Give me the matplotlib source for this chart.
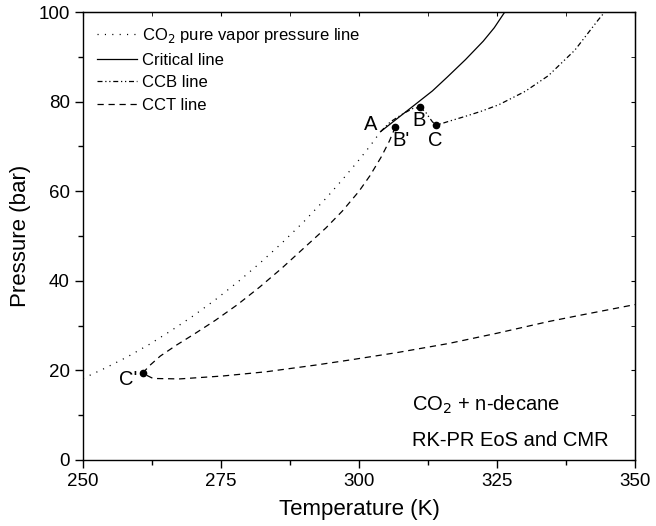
import numpy as np
import matplotlib.pyplot as plt
from matplotlib.ticker import MultipleLocator

plt.rcParams['font.family'] = ['Liberation Sans', 'DejaVu Sans']

# CO2 pure vapor pressure line
vap_T = [250, 254, 258, 262, 266, 270, 274, 278, 282, 286, 290, 294, 297, 300, 302, 303.9]
vap_P = [18.2, 20.5, 23.0, 25.8, 28.9, 32.2, 35.8, 39.7, 43.9, 48.4, 53.2, 58.4, 62.6, 67.0, 70.1, 73.3]

# critical line
crit_T = [303.9, 307.2, 310.0, 313.3, 316.0, 319.3, 322.5, 324.5, 326.4]
crit_P = [73.3, 76.5, 79.2, 82.4, 85.5, 89.4, 93.5, 96.5, 100.0]

# CCB line
ccb_T = [303.9, 305.7, 308.1, 309.8, 311.0, 312.0, 312.6, 313.3, 314.0, 315.2, 316.5, 319.2, 322.0,
         325.3, 330.1, 334.3, 339.1, 343.3, 344.5]
ccb_P = [73.3, 75.5, 77.4, 78.5, 78.7, 77.8, 76.7, 75.5, 74.8, 75.2, 75.7, 76.7, 77.8,
         79.3, 82.3, 85.8, 91.5, 98.2, 100.0]

# CCT line (upper branch B' -> C', lower branch C' -> 350 K)
cct_T = [306.6, 305.5, 304.0, 302.0, 300.0, 297.0, 294.0, 290.0, 286.0, 282.0, 278.0, 274.0, 270.0,
         267.0, 264.0, 262.0, 260.8,
         262.7, 267.5, 275.3, 283.2, 292.2, 298.2, 307.0, 316.2, 325.0, 334.3, 340.0, 350.0]
cct_P = [74.4, 71.2, 67.6, 63.5, 60.0, 55.6, 51.8, 47.3, 42.8, 38.6, 34.7, 31.2, 28.0,
         25.7, 23.2, 21.0, 19.35,
         18.2, 18.1, 18.75, 19.7, 21.2, 22.3, 24.0, 26.0, 28.3, 30.9, 32.3, 34.7]

# marked points
pt_T = [306.6, 311.0, 314.0, 260.8]
pt_P = [74.4, 78.7, 74.8, 19.35]
lab_names = ['A', "B'", 'B', 'C', "C'"]
lab_T = [302.2, 307.6, 310.9, 313.8, 258.1]
lab_P = [74.8, 71.4, 75.9, 71.4, 17.9]

fig = plt.figure(figsize=(6.56, 5.26), dpi=100)
ax = fig.add_axes([0.1265, 0.1255, 0.8415, 0.8515])

ax.plot(vap_T, vap_P, color='black', lw=0.9, linestyle=(0, (0.9, 5)), label='CO$_2$ pure vapor pressure line')
ax.plot(crit_T, crit_P, color='black', lw=0.9, linestyle='-', label='Critical line')
ax.plot(ccb_T, ccb_P, color='black', lw=0.9, linestyle=(0, (4, 2.2, 1, 2.2, 1, 2.2)), label='CCB line')
ax.plot(cct_T, cct_P, color='black', lw=0.9, linestyle=(0, (5, 3.8)), label='CCT line')
ax.plot(pt_T, pt_P, 'o', color='black', ms=4.5, zorder=5)

for name, t, p in zip(lab_names, lab_T, lab_P):
    ax.text(t, p, name, fontsize=14.5, ha='center', va='center')

ax.text(309.6, 12.3, 'CO$_2$ + n-decane', fontsize=14.5, ha='left', va='center')
ax.text(309.6, 4.35, 'RK-PR EoS and CMR', fontsize=14.5, ha='left', va='center')

ax.set_xlim(250, 350)
ax.set_ylim(0, 100)
ax.xaxis.set_major_locator(MultipleLocator(25))
ax.xaxis.set_minor_locator(MultipleLocator(12.5))
ax.yaxis.set_major_locator(MultipleLocator(20))
ax.yaxis.set_minor_locator(MultipleLocator(10))
ax.tick_params(which='both', direction='out', top=False, right=False, labelsize=13.5, width=1.0)
ax.tick_params(which='major', length=6)
ax.tick_params(which='minor', length=3.5)
for s in ax.spines.values():
    s.set_linewidth(1.0)

# mirrored inward ticks on top and right
ax2 = ax.secondary_xaxis('top')
ax2.xaxis.set_major_locator(MultipleLocator(25))
ax2.xaxis.set_minor_locator(MultipleLocator(12.5))
ax2.tick_params(which='both', direction='in', labeltop=False, length=3)
ay2 = ax.secondary_yaxis('right')
ay2.yaxis.set_major_locator(MultipleLocator(20))
ay2.yaxis.set_minor_locator(MultipleLocator(10))
ay2.tick_params(which='both', direction='in', labelright=False, length=3)

ax.set_xlabel('Temperature (K)', fontsize=16, labelpad=6)
ax.set_ylabel('Pressure (bar)', fontsize=16, labelpad=5)

ax.legend(loc='upper left', frameon=False, fontsize=12, handlelength=2.4, handletextpad=0.3,
          labelspacing=0.45, borderaxespad=0.45, bbox_to_anchor=(0.0, 1.0))

fig.savefig('out.png', dpi=100)
